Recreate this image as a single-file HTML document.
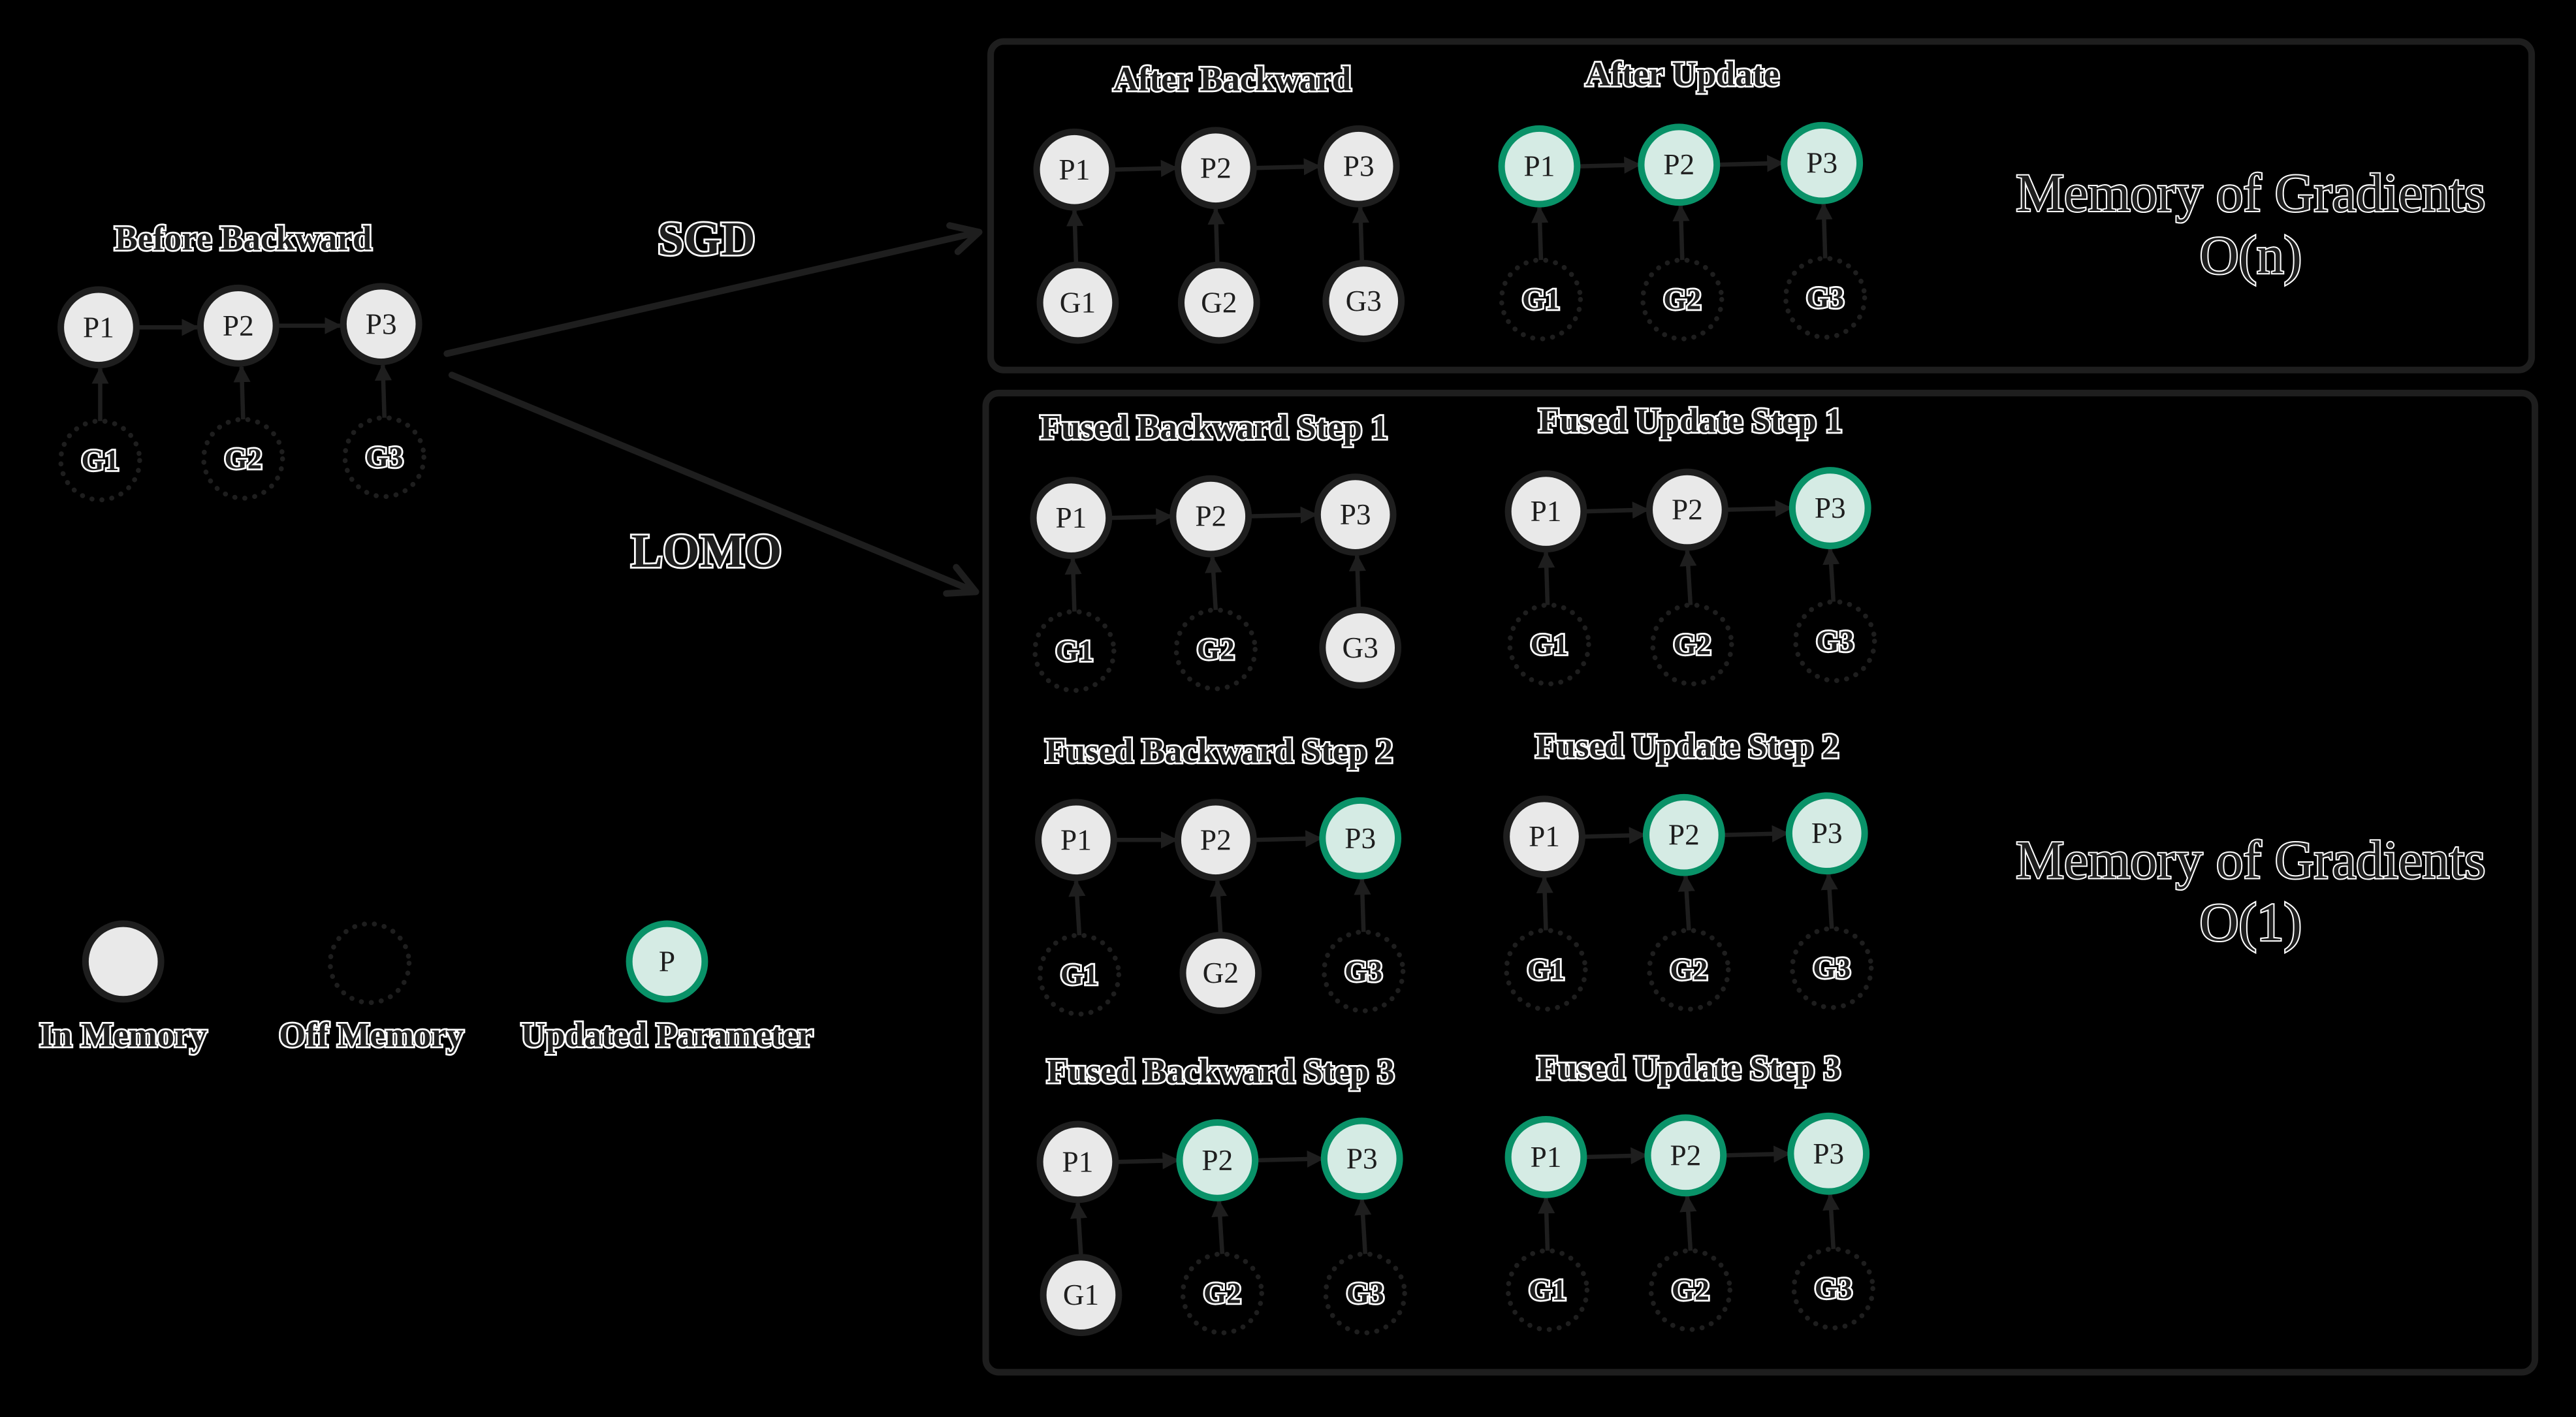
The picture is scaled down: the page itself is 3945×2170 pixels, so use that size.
<!DOCTYPE html>
<html><head><meta charset="utf-8"><style>
html,body{margin:0;padding:0;background:#000;}
svg{display:block}
.t{font-family:"Liberation Serif",serif;font-weight:bold;fill:#1e1e1e;stroke:#fff;stroke-width:2.2;paint-order:stroke;text-anchor:middle;dominant-baseline:central}
.n{font-family:"Liberation Serif",serif;fill:#1e1e1e;font-size:18px;text-anchor:middle;dominant-baseline:central}
.s{fill:#e9e9e9;stroke:#1e1e1e;stroke-width:4}
.g{fill:#d5ebe4;stroke:#099268;stroke-width:4}
.d{fill:none;stroke:#1e1e1e;stroke-width:3;stroke-dasharray:0.1 6;stroke-linecap:round}
.a{stroke:#1e1e1e;stroke-width:2.6;fill:none;marker-end:url(#m)}
.b{stroke:#1e1e1e;stroke-width:4;fill:none;stroke-linecap:round;stroke-linejoin:round}
.h{font-size:21px}
</style></head><body>
<svg width="3945" height="2170" viewBox="0 0 1568 862" xmlns="http://www.w3.org/2000/svg">
<defs><marker id="m" viewBox="0 0 10 10" refX="9" refY="5" markerWidth="4" markerHeight="4" orient="auto"><path d="M0,0 L10,5 L0,10 z" fill="#1e1e1e"/></marker></defs>
<rect x="603" y="25" width="938" height="200" rx="8" fill="none" stroke="#1e1e1e" stroke-width="4"/>
<rect x="600" y="239" width="943" height="596" rx="8" fill="none" stroke="#1e1e1e" stroke-width="4"/>

<text class="t h" x="148" y="145">Before Backward</text>
<line class="a" x1="84" y1="199" x2="120" y2="199"/><line class="a" x1="170" y1="198" x2="207" y2="198"/>
<line class="a" x1="61" y1="256" x2="61" y2="224"/><line class="a" x1="148" y1="255" x2="147" y2="223"/><line class="a" x1="234" y1="254" x2="233" y2="222"/>
<circle class="s" cx="60" cy="199" r="23"/><text class="n" x="60" y="199">P1</text>
<circle class="s" cx="145" cy="198" r="23"/><text class="n" x="145" y="198">P2</text>
<circle class="s" cx="232" cy="197" r="23"/><text class="n" x="232" y="197">P3</text>
<circle class="d" cx="61" cy="280" r="24"/><text class="t" x="61" y="280" font-size="18">G1</text>
<circle class="d" cx="148" cy="279" r="24"/><text class="t" x="148" y="279" font-size="18">G2</text>
<circle class="d" cx="234" cy="278" r="24"/><text class="t" x="234" y="278" font-size="18">G3</text>

<text class="t" x="430" y="145" font-size="29">SGD</text>
<path class="b" d="M272,215 L596,141 M578,137 L596,141 L583,153"/>
<text class="t" x="430" y="335" font-size="29">LOMO</text>
<path class="b" d="M275,228 L594,360 M582,345 L594,360 L576,361"/>

<text class="t h" x="750" y="48">After Backward</text>
<line class="a" x1="678" y1="103" x2="716" y2="102"/><line class="a" x1="764" y1="102" x2="803" y2="101"/>
<line class="a" x1="655" y1="160" x2="654" y2="128"/><line class="a" x1="741" y1="160" x2="740" y2="127"/><line class="a" x1="829" y1="159" x2="828" y2="126"/>
<circle class="s" cx="654" cy="103" r="23"/><text class="n" x="654" y="103">P1</text>
<circle class="s" cx="740" cy="102" r="23"/><text class="n" x="740" y="102">P2</text>
<circle class="s" cx="827" cy="101" r="23"/><text class="n" x="827" y="101">P3</text>
<circle class="s" cx="656" cy="184" r="23"/><text class="n" x="656" y="184">G1</text>
<circle class="s" cx="742" cy="184" r="23"/><text class="n" x="742" y="184">G2</text>
<circle class="s" cx="830" cy="183" r="23"/><text class="n" x="830" y="183">G3</text>

<text class="t h" x="1024" y="45">After Update</text>
<line class="a" x1="961" y1="101" x2="998" y2="100"/><line class="a" x1="1046" y1="100" x2="1085" y2="99"/>
<line class="a" x1="938" y1="158" x2="937" y2="126"/><line class="a" x1="1024" y1="158" x2="1023" y2="125"/><line class="a" x1="1111" y1="157" x2="1110" y2="124"/>
<circle class="g" cx="937" cy="101" r="23"/><text class="n" x="937" y="101">P1</text>
<circle class="g" cx="1022" cy="100" r="23"/><text class="n" x="1022" y="100">P2</text>
<circle class="g" cx="1109" cy="99" r="23"/><text class="n" x="1109" y="99">P3</text>
<circle class="d" cx="938" cy="182" r="24"/><text class="t" x="938" y="182" font-size="18">G1</text>
<circle class="d" cx="1024" cy="182" r="24"/><text class="t" x="1024" y="182" font-size="18">G2</text>
<circle class="d" cx="1111" cy="181" r="24"/><text class="t" x="1111" y="181" font-size="18">G3</text>

<text class="t" x="1370" y="117" font-size="33" style="font-weight:normal;stroke-width:1.6">Memory of Gradients</text>
<text class="t" x="1370" y="155" font-size="33" style="font-weight:normal;stroke-width:1.6">O(n)</text>

<text class="t h" x="739" y="260">Fused Backward Step 1</text>
<line class="a" x1="676" y1="315" x2="713" y2="314"/><line class="a" x1="761" y1="314" x2="801" y2="313"/>
<line class="a" x1="654" y1="372" x2="653" y2="340"/><line class="a" x1="740" y1="371" x2="738" y2="339"/><line class="a" x1="827" y1="370" x2="826" y2="338"/>
<circle class="s" cx="652" cy="315" r="23"/><text class="n" x="652" y="315">P1</text>
<circle class="s" cx="737" cy="314" r="23"/><text class="n" x="737" y="314">P2</text>
<circle class="s" cx="825" cy="313" r="23"/><text class="n" x="825" y="313">P3</text>
<circle class="d" cx="654" cy="396" r="24"/><text class="t" x="654" y="396" font-size="18">G1</text>
<circle class="d" cx="740" cy="395" r="24"/><text class="t" x="740" y="395" font-size="18">G2</text>
<circle class="s" cx="828" cy="394" r="23"/><text class="n" x="828" y="394">G3</text>

<text class="t h" x="1029" y="256">Fused Update Step 1</text>
<line class="a" x1="965" y1="311" x2="1003" y2="310"/><line class="a" x1="1051" y1="310" x2="1090" y2="309"/>
<line class="a" x1="942" y1="368" x2="941" y2="336"/><line class="a" x1="1029" y1="368" x2="1027" y2="335"/><line class="a" x1="1116" y1="366" x2="1114" y2="334"/>
<circle class="s" cx="941" cy="311" r="23"/><text class="n" x="941" y="311">P1</text>
<circle class="s" cx="1027" cy="310" r="23"/><text class="n" x="1027" y="310">P2</text>
<circle class="g" cx="1114" cy="309" r="23"/><text class="n" x="1114" y="309">P3</text>
<circle class="d" cx="943" cy="392" r="24"/><text class="t" x="943" y="392" font-size="18">G1</text>
<circle class="d" cx="1030" cy="392" r="24"/><text class="t" x="1030" y="392" font-size="18">G2</text>
<circle class="d" cx="1117" cy="390" r="24"/><text class="t" x="1117" y="390" font-size="18">G3</text>

<text class="t h" x="742" y="457">Fused Backward Step 2</text>
<line class="a" x1="679" y1="511" x2="716" y2="511"/><line class="a" x1="764" y1="511" x2="804" y2="510"/>
<line class="a" x1="657" y1="569" x2="655" y2="536"/><line class="a" x1="743" y1="569" x2="741" y2="536"/><line class="a" x1="830" y1="567" x2="829" y2="535"/>
<circle class="s" cx="655" cy="511" r="23"/><text class="n" x="655" y="511">P1</text>
<circle class="s" cx="740" cy="511" r="23"/><text class="n" x="740" y="511">P2</text>
<circle class="g" cx="828" cy="510" r="23"/><text class="n" x="828" y="510">P3</text>
<circle class="d" cx="657" cy="593" r="24"/><text class="t" x="657" y="593" font-size="18">G1</text>
<circle class="s" cx="743" cy="592" r="23"/><text class="n" x="743" y="592">G2</text>
<circle class="d" cx="830" cy="591" r="24"/><text class="t" x="830" y="591" font-size="18">G3</text>

<text class="t h" x="1027" y="454">Fused Update Step 2</text>
<line class="a" x1="964" y1="509" x2="1001" y2="508"/><line class="a" x1="1049" y1="508" x2="1088" y2="507"/>
<line class="a" x1="941" y1="566" x2="940" y2="534"/><line class="a" x1="1028" y1="566" x2="1026" y2="533"/><line class="a" x1="1115" y1="565" x2="1113" y2="532"/>
<circle class="s" cx="940" cy="509" r="23"/><text class="n" x="940" y="509">P1</text>
<circle class="g" cx="1025" cy="508" r="23"/><text class="n" x="1025" y="508">P2</text>
<circle class="g" cx="1112" cy="507" r="23"/><text class="n" x="1112" y="507">P3</text>
<circle class="d" cx="941" cy="590" r="24"/><text class="t" x="941" y="590" font-size="18">G1</text>
<circle class="d" cx="1028" cy="590" r="24"/><text class="t" x="1028" y="590" font-size="18">G2</text>
<circle class="d" cx="1115" cy="589" r="24"/><text class="t" x="1115" y="589" font-size="18">G3</text>

<text class="t h" x="743" y="652">Fused Backward Step 3</text>
<line class="a" x1="680" y1="707" x2="717" y2="706"/><line class="a" x1="765" y1="706" x2="805" y2="705"/>
<line class="a" x1="658" y1="764" x2="656" y2="732"/><line class="a" x1="744" y1="763" x2="742" y2="731"/><line class="a" x1="831" y1="763" x2="829" y2="730"/>
<circle class="s" cx="656" cy="707" r="23"/><text class="n" x="656" y="707">P1</text>
<circle class="g" cx="741" cy="706" r="23"/><text class="n" x="741" y="706">P2</text>
<circle class="g" cx="829" cy="705" r="23"/><text class="n" x="829" y="705">P3</text>
<circle class="s" cx="658" cy="788" r="23"/><text class="n" x="658" y="788">G1</text>
<circle class="d" cx="744" cy="787" r="24"/><text class="t" x="744" y="787" font-size="18">G2</text>
<circle class="d" cx="831" cy="787" r="24"/><text class="t" x="831" y="787" font-size="18">G3</text>

<text class="t h" x="1028" y="650">Fused Update Step 3</text>
<line class="a" x1="965" y1="704" x2="1002" y2="703"/><line class="a" x1="1050" y1="703" x2="1089" y2="702"/>
<line class="a" x1="942" y1="761" x2="941" y2="729"/><line class="a" x1="1029" y1="761" x2="1027" y2="728"/><line class="a" x1="1116" y1="760" x2="1114" y2="727"/>
<circle class="g" cx="941" cy="704" r="23"/><text class="n" x="941" y="704">P1</text>
<circle class="g" cx="1026" cy="703" r="23"/><text class="n" x="1026" y="703">P2</text>
<circle class="g" cx="1113" cy="702" r="23"/><text class="n" x="1113" y="702">P3</text>
<circle class="d" cx="942" cy="785" r="24"/><text class="t" x="942" y="785" font-size="18">G1</text>
<circle class="d" cx="1029" cy="785" r="24"/><text class="t" x="1029" y="785" font-size="18">G2</text>
<circle class="d" cx="1116" cy="784" r="24"/><text class="t" x="1116" y="784" font-size="18">G3</text>

<text class="t" x="1370" y="523" font-size="33" style="font-weight:normal;stroke-width:1.6">Memory of Gradients</text>
<text class="t" x="1370" y="561" font-size="33" style="font-weight:normal;stroke-width:1.6">O(1)</text>

<circle class="s" cx="75" cy="585" r="23"/>
<circle class="d" cx="225" cy="586" r="24"/>
<circle class="g" cx="406" cy="585" r="23"/><text class="n" x="406" y="585" font-size="16">P</text>
<text class="t h" x="75" y="630">In Memory</text>
<text class="t h" x="226" y="630">Off Memory</text>
<text class="t h" x="406" y="630">Updated Parameter</text>
</svg>
</body></html>
